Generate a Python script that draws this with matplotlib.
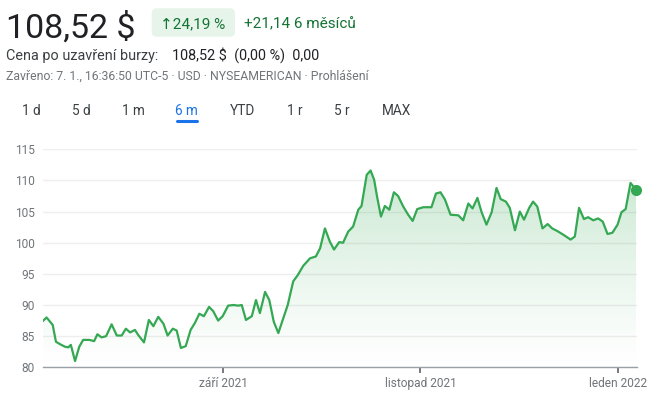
import numpy as np
import pandas as pd
import matplotlib
matplotlib.use("Agg")
import matplotlib.pyplot as plt
import matplotlib.dates as mdates
import matplotlib.transforms as mtransforms
from matplotlib.patches import FancyBboxPatch, Polygon
from matplotlib.lines import Line2D

plt.rcParams['font.family'] = ['Roboto', 'DejaVu Sans']

# data (days since 7 Jul 2021, closing price in $)
start = pd.Timestamp('2021-07-07')
day_offsets = [0.5, 1.5, 3.4, 4.4, 5.7, 7.2, 8.2, 9.0, 10.3, 11.6, 12.8, 14.7, 16.2,
               17.2, 18.5, 19.9, 21.6, 23.2, 24.7, 26.0, 27.3, 28.8, 29.8, 31.6,
               33.1, 34.5, 36.0, 37.6, 38.9, 40.5, 41.7, 43.0, 44.5, 46.0, 47.3,
               48.7, 50.1, 51.7, 53.0, 54.5, 55.9, 57.6, 59.2, 60.7, 61.8, 63.1,
               64.9, 66.2, 67.4, 69.0, 70.3, 71.7, 73.1, 74.6, 76.0, 77.7, 79.1,
               80.8, 82.9, 84.7, 86.0, 87.5, 89.0, 90.3, 91.9, 93.1, 94.7, 96.2,
               97.8, 98.8, 100.4, 101.6, 102.7, 103.6, 104.8, 106.0, 107.4, 108.8,
               110.1, 111.7, 113.2, 114.6, 116.0, 117.9, 120.4, 121.8, 123.2, 124.6,
               126.3, 128.7, 130.2, 131.8, 133.1, 134.6, 135.9, 137.4, 139.0, 140.5,
               141.8, 143.4, 144.6, 146.2, 147.7, 149.0, 150.6, 151.8, 153.1, 154.7,
               156.3, 157.7, 159.2, 161.1, 163.4, 164.7, 166.0, 167.5, 168.8, 170.4,
               171.9, 173.3, 174.8, 176.3, 177.9, 179.1, 180.4, 181.9, 182.7, 183.6]
prices = [87.5, 88.0, 86.8, 84.1, 83.7, 83.3, 83.2, 83.6, 81.0, 83.3, 84.4, 84.4, 84.2,
          85.3, 84.8, 85.0, 86.9, 85.1, 85.1, 86.2, 85.6, 86.0, 85.2, 84.0,
          87.6, 86.6, 88.1, 87.0, 85.1, 86.2, 85.9, 83.1, 83.4, 86.0, 87.1,
          88.6, 88.2, 89.7, 89.0, 87.5, 88.2, 89.9, 90.0, 89.9, 90.0, 87.6,
          88.2, 90.8, 88.7, 92.1, 90.8, 87.3, 85.5, 87.8, 90.0, 93.8, 94.8,
          96.3, 97.5, 97.8, 99.1, 102.3, 100.2, 98.9, 100.1, 100.0, 101.8, 102.6,
          105.3, 105.9, 110.9, 111.6, 110.1, 107.4, 104.2, 105.9, 105.3, 108.1,
          107.5, 105.8, 104.5, 103.5, 105.4, 105.7, 105.7, 107.9, 108.1, 106.9,
          104.5, 104.4, 103.6, 106.3, 105.5, 107.2, 104.9, 102.9, 104.9, 108.8,
          107.0, 106.6, 105.6, 102.0, 105.0, 103.7, 105.6, 106.6, 105.8, 102.3,
          103.0, 102.3, 101.9, 101.3, 100.5, 101.0, 105.6, 103.8, 104.1, 103.6,
          103.9, 103.4, 101.4, 101.6, 102.9, 104.9, 105.4, 109.6, 109.1, 108.52]
y_ticks = [80, 85, 90, 95, 100, 105, 110, 115]
x_ticks = ['2021-09-01', '2021-11-01', '2022-01-01']
x_tick_labels = ['září 2021', 'listopad 2021', 'leden 2022']
tabs = ['1 d', '5 d', '1 m', '6 m', 'YTD', '1 r', '5 r', 'MAX']
tab_x = [22, 72, 122, 175, 230, 287, 334, 382]

line_color = '#34a853'
W, H = 650, 398

fig = plt.figure(figsize=(W / 100, H / 100), dpi=100)
fig.patch.set_facecolor('white')
# pixel coordinates, origin top-left
px = mtransforms.Affine2D().scale(1 / 100, -1 / 100).translate(0, H / 100) + fig.dpi_scale_trans

# header
fig.text(6, 37.7, '108,52 $', transform=px, fontsize=24.5, color='#202124', va='baseline')
badge = FancyBboxPatch((151.7, 8.3), 83.3, 28.4, boxstyle='round,pad=0,rounding_size=5',
                       transform=px, facecolor='#e6f4ea', edgecolor='none')
fig.patches.append(badge)
fig.text(160, 28.3, '↑24,19 %', transform=px, fontsize=11, color='#137333', va='baseline')
fig.text(244, 28.3, '+21,14 6 měsíců', transform=px, fontsize=11, color='#137333', va='baseline')
fig.text(6, 60, 'Cena po uzavření burzy:', transform=px, fontsize=10.4, color='#3c4043',
         va='baseline')
fig.text(172.5, 60, '108,52 $  (0,00 %)  0,00', transform=px, fontsize=10.4, color='#202124',
         va='baseline')
fig.text(6, 79.3, 'Zavřeno: 7. 1., 16:36:50 UTC-5 · USD · NYSEAMERICAN · Prohlášení',
         transform=px, fontsize=8.8, color='#70757a', va='baseline')

for label, x in zip(tabs, tab_x):
    c = '#1a73e8' if label == '6 m' else '#3c4043'
    fig.text(x, 115, label, transform=px, fontsize=9.8, color=c, va='baseline')
fig.lines.append(Line2D([176.5, 196.5], [120.8, 120.8], transform=px, color='#1a73e8',
                        lw=2.2, solid_capstyle='round'))

# chart
ax = fig.add_axes([43 / W, (H - 367.3) / H, (637 - 43) / W, 218 / H])
dates = start + pd.to_timedelta(day_offsets, unit='D')
x = mdates.date2num(dates.to_pydatetime())
x0 = mdates.date2num((start + pd.Timedelta(days=0.4)).to_pydatetime())
x1 = mdates.date2num((start + pd.Timedelta(days=183.9)).to_pydatetime())

vals = np.linspace(80, 115, 300)
alpha = 0.27 * np.clip((vals - 80) / 32, 0, 1) ** 1.2
grad = np.zeros((300, 1, 4))
grad[:, 0, 0] = 52 / 255
grad[:, 0, 1] = 168 / 255
grad[:, 0, 2] = 83 / 255
grad[:, 0, 3] = alpha
im = ax.imshow(grad, extent=[x0, x1, 80, 115], origin='lower', aspect='auto', zorder=1)
verts = [(x[0], 80)] + list(zip(x, prices)) + [(x[-1], 80)]
clip = Polygon(verts, closed=True, transform=ax.transData, facecolor='none', edgecolor='none')
ax.add_patch(clip)
im.set_clip_path(clip)

ax.plot(x, prices, color=line_color, lw=1.6, zorder=3, solid_joinstyle='round')
ax.plot(x[-1], prices[-1], 'o', ms=7, color=line_color, zorder=4, clip_on=False)

ax.set_xlim(x0, x1)
ax.set_ylim(80, 115)
ax.set_yticks(y_ticks)
ax.set_yticklabels([str(v) for v in y_ticks])
ax.set_xticks(mdates.date2num(pd.to_datetime(x_ticks).to_pydatetime()))
ax.set_xticklabels(x_tick_labels)
ax.grid(axis='y', color='#eeeeee', lw=1, zorder=0)
ax.set_axisbelow(True)
for s in ['top', 'right', 'left']:
    ax.spines[s].set_visible(False)
ax.spines['bottom'].set_color('#9aa0a6')
ax.spines['bottom'].set_linewidth(1)
ax.tick_params(axis='y', length=0, pad=6, labelsize=8.6, labelcolor='#70757a')
ax.tick_params(axis='x', length=4, width=1.2, color='#5f6368', pad=3, labelsize=8.6,
               labelcolor='#70757a')

fig.savefig('out.png', dpi=100)
